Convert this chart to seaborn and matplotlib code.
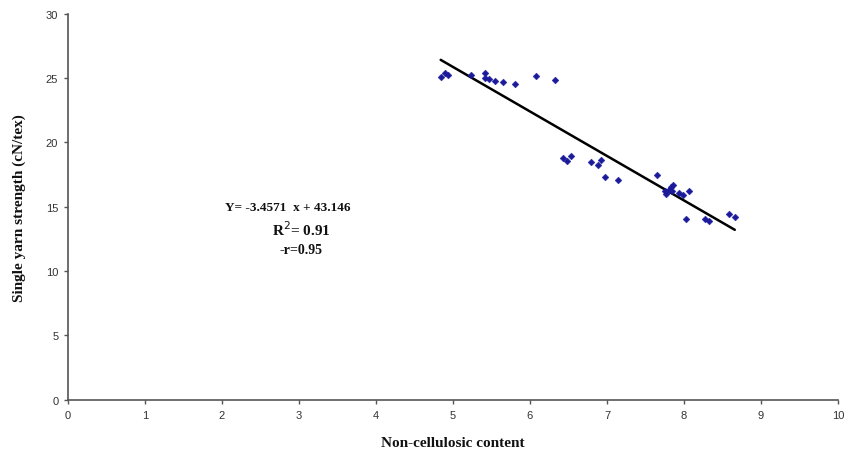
import numpy as np
import pandas as pd
import matplotlib
matplotlib.use("Agg")
import matplotlib.pyplot as plt
import seaborn as sns

# Non-cellulosic content vs single yarn strength
non_cellulosic = [4.84, 4.89, 4.94, 5.24, 5.41, 5.41, 5.47, 5.55, 5.65, 5.81,
                  6.08, 6.32, 6.43, 6.48, 6.53, 6.79, 6.88, 6.92, 6.97, 7.14,
                  7.65, 7.75, 7.77, 7.81, 7.83, 7.86, 7.85, 7.94, 7.99, 8.06,
                  8.02, 8.27, 8.32, 8.58, 8.66]
yarn_strength = [25.06, 25.39, 25.24, 25.24, 25.39, 25.00, 24.95, 24.79, 24.67, 24.51,
                 25.14, 24.85, 18.79, 18.58, 18.94, 18.45, 18.27, 18.63, 17.29, 17.08,
                 17.44, 16.20, 16.01, 16.32, 16.51, 16.71, 16.25, 16.09, 15.91, 16.25,
                 14.07, 14.07, 13.89, 14.41, 14.23]

# Fitted linear regression
slope = -3.4571
intercept = 43.146
r_squared = 0.91
neg_r = 0.95

x_ticks = list(range(0, 11))
y_ticks = list(range(0, 31, 5))

df = pd.DataFrame({"x": non_cellulosic, "y": yarn_strength})

sns.set_style("white")
plt.rcParams["font.family"] = ["Liberation Sans", "DejaVu Sans"]

fig = plt.figure(figsize=(8.46, 4.52), dpi=100)
ax = fig.add_axes([0.0804, 0.1133, 0.9101, 0.8542])

sns.scatterplot(data=df, x="x", y="y", ax=ax, marker="D", s=12,
                color="#1a1a9a", edgecolor="#1a1a9a", linewidth=0.3, zorder=3)

x_line = np.array([min(non_cellulosic), max(non_cellulosic)])
sns.lineplot(x=x_line, y=slope * x_line + intercept, ax=ax,
             color="black", linewidth=1.8, zorder=2)

ax.set_xlim(0, 10)
ax.set_ylim(0, 30)
ax.set_xticks(x_ticks)
ax.set_yticks(y_ticks)
ax.tick_params(axis="both", direction="out", length=3, width=1,
               bottom=True, left=True,
               color="#555555", labelsize=8, labelcolor="#333333", pad=4)

for side in ["top", "right"]:
    ax.spines[side].set_visible(False)
for side in ["left", "bottom"]:
    ax.spines[side].set_color("#555555")
    ax.spines[side].set_linewidth(1.2)

serif_bold = dict(family="Liberation Serif", fontweight="bold", color="#111111")
ax.set_xlabel("Non-cellulosic content", fontsize=11, labelpad=12, **serif_bold)
ax.set_ylabel("Single yarn strength (cN/tex)", fontsize=11, labelpad=14, **serif_bold)

ax.text(2.85, 14.97, f"Y= {slope:.4f}  x + {intercept:.3f}", ha="center", va="center",
        fontsize=9.5, **serif_bold)
ax.text(3.03, 13.30, f"R$^{{2}}$= {r_squared:.2f}", ha="center", va="center",
        fontsize=11, **serif_bold)
ax.text(3.03, 11.70, f"-r={neg_r:.2f}", ha="center", va="center",
        fontsize=10, **serif_bold)

fig.savefig("out.png", dpi=100)
